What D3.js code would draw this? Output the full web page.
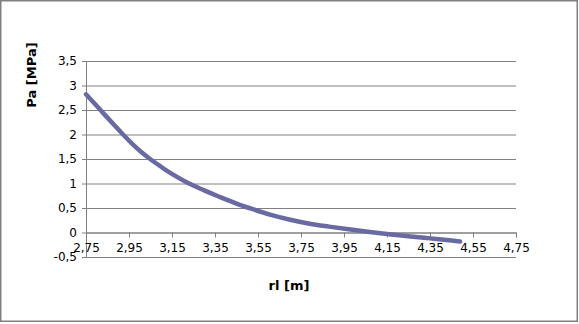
<!DOCTYPE html>
<html>
<head>
<meta charset="utf-8">
<script src="https://cdn.jsdelivr.net/npm/d3@7"></script>
<style>
  body { margin: 0; background: #fff; }
  text { font-family: "DejaVu Sans", sans-serif; fill: #000; }
</style>
</head>
<body>
<svg id="chart" width="579" height="324"></svg>
<script>
// values
const rl = [2.75, 2.78, 2.84, 2.88, 2.92, 2.97, 3.03, 3.09, 3.14, 3.22, 3.30, 3.37, 3.45,
            3.53, 3.61, 3.70, 3.79, 3.88, 3.98, 4.07, 4.16, 4.26, 4.35, 4.44, 4.49];
const pa = [2.82, 2.68, 2.39, 2.20, 2.01, 1.79, 1.56, 1.37, 1.22, 1.02, 0.86, 0.73, 0.59,
            0.47, 0.36, 0.26, 0.18, 0.12, 0.06, 0.01, -0.035, -0.08, -0.12, -0.16, -0.185];
const xTicks = [2.75, 2.95, 3.15, 3.35, 3.55, 3.75, 3.95, 4.15, 4.35, 4.55, 4.75];
const yTicks = [-0.5, 0, 0.5, 1, 1.5, 2, 2.5, 3, 3.5];

const svg = d3.select('#chart');
const plotLeft = 86, plotRight = 516, plotTop = 61, plotBottom = 257;
const comma = d => String(d).replace('.', ',');

const x = d3.scaleLinear().domain([2.75, 4.75]).range([plotLeft, plotRight]);
const y = d3.scaleLinear().domain([-0.5, 3.5]).range([plotBottom, plotTop]);

// outer chart border
svg.append('rect')
    .attr('x', 0.75).attr('y', 0.75)
    .attr('width', 576.5).attr('height', 320.5)
    .attr('fill', 'none')
    .attr('stroke', '#808080')
    .attr('stroke-width', 1.5);

// horizontal gridlines + left axis
const yAxis = svg.append('g')
    .attr('transform', `translate(${plotLeft},0)`)
    .call(d3.axisLeft(y).tickValues(yTicks).tickFormat(comma)
        .tickSize(-(plotRight - plotLeft)).tickPadding(9));
yAxis.select('.domain').attr('stroke', '#808080');
yAxis.selectAll('.tick line').attr('stroke', '#808080');
yAxis.selectAll('.tick line').clone()
    .attr('x2', -4);
yAxis.selectAll('text').style('font-size', '12px').attr('fill', '#000');

// x axis sits on zero
const xAxis = svg.append('g')
    .attr('transform', `translate(0,${y(0)})`)
    .call(d3.axisBottom(x).tickValues(xTicks).tickFormat(comma)
        .tickSize(5).tickPadding(6));
xAxis.select('.domain').attr('stroke', '#808080');
xAxis.selectAll('.tick line').attr('stroke', '#808080');
xAxis.selectAll('text').style('font-size', '12px').attr('fill', '#000');

// series
const pts = rl.map((d, i) => [d, pa[i]]);
svg.append('path')
    .datum(pts)
    .attr('fill', 'none')
    .attr('stroke', '#6a6aa2')
    .attr('stroke-width', 4.5)
    .attr('stroke-linecap', 'round')
    .attr('d', d3.line().x(d => x(d[0])).y(d => y(d[1])).curve(d3.curveMonotoneX));

// axis titles
svg.append('text')
    .attr('x', 289).attr('y', 290)
    .attr('text-anchor', 'middle')
    .style('font-size', '13px').style('font-weight', 'bold')
    .text('rl [m]');

svg.append('text')
    .attr('transform', 'translate(36,75)rotate(-90)')
    .attr('text-anchor', 'middle')
    .style('font-size', '13px').style('font-weight', 'bold')
    .text('Pa [MPa]');
</script>
</body>
</html>
